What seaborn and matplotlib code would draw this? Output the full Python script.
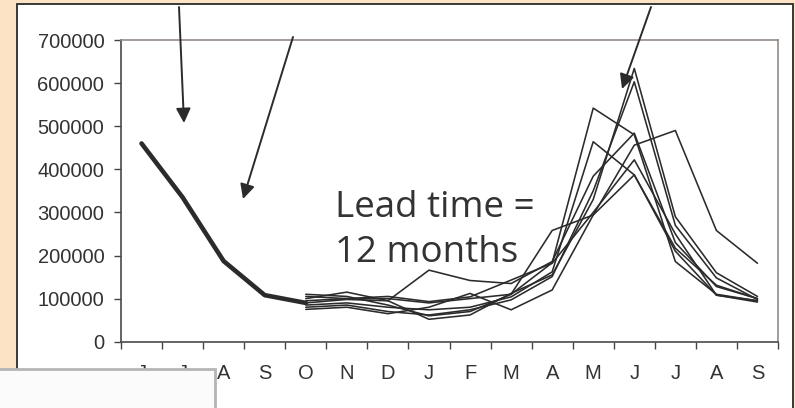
import matplotlib
matplotlib.use("Agg")
import matplotlib.pyplot as plt
from matplotlib.patches import Rectangle
import seaborn as sns
import pandas as pd
import numpy as np

months = ["J", "J", "A", "S", "O", "N", "D", "J", "F", "M", "A", "M", "J", "J", "A", "S"]

# observed (bold) series, Jun..Oct
observed = [460000, 335000, 187000, 108000, 90000]

# forecast series (lead time 12 months), Oct..Sep
fc1 = [95000, 100000, 100000, 90000, 100000, 110000, 258000, 294000, 456000, 490000, 258000, 182000]
fc2 = [110000, 105000, 85000, 60000, 70000, 110000, 183000, 542000, 480000, 186000, 110000, 95000]
fc3 = [85000, 90000, 80000, 74000, 80000, 104000, 162000, 464000, 387000, 217000, 131000, 100000]
fc4 = [90000, 98000, 95000, 52000, 62000, 112000, 155000, 330000, 634000, 290000, 160000, 105000]
fc5 = [80000, 85000, 70000, 62000, 74000, 97000, 151000, 350000, 603000, 270000, 148000, 98000]
fc6 = [100000, 115000, 95000, 166000, 142000, 135000, 186000, 384000, 484000, 230000, 128000, 100000]
fc7 = [105000, 100000, 105000, 93000, 104000, 143000, 182000, 300000, 422000, 250000, 108000, 92000]
fc8 = [75000, 80000, 65000, 80000, 112000, 74000, 120000, 294000, 387000, 210000, 108000, 95000]
forecasts = [fc1, fc2, fc3, fc4, fc5, fc6, fc7, fc8]

yticks = [0, 100000, 200000, 300000, 400000, 500000, 600000, 700000]

W, H = 795, 408
PEACH = "#fce3c6"
INK = "#333333"

sns.set_theme(style="white")
plt.rcParams["font.family"] = ["Liberation Sans", "DejaVu Sans"]

fig = plt.figure(figsize=(W / 100, H / 100), dpi=100, facecolor=PEACH)

# white chart box
box = Rectangle((17, -5), 776, 409, transform=None, facecolor="white",
                edgecolor="#2a2a2a", linewidth=1.3, zorder=-5)
fig.patches.append(box)

ax = fig.add_axes([121 / W, 66.3 / H, 657 / W, 301.7 / H])
ax.set_facecolor("white")
ax.set_zorder(1)

obs_df = pd.DataFrame({"x": np.arange(len(observed)), "y": observed})
sns.lineplot(data=obs_df, x="x", y="y", ax=ax, color="#2b2b2b", linewidth=3.3, zorder=3)

rows = []
for k, fc in enumerate(forecasts):
    for i, v in enumerate(fc):
        rows.append({"x": 4 + i, "y": v, "series": k})
fc_df = pd.DataFrame(rows)
sns.lineplot(data=fc_df, x="x", y="y", units="series", estimator=None, ax=ax,
             color="#2b2b2b", linewidth=1.15, zorder=2)

ax.set_xlim(-0.5, len(months) - 0.5)
ax.set_ylim(0, 700000)
ax.set_xlabel("")
ax.set_ylabel("")
ax.set_yticks(yticks)
ax.set_yticklabels([str(t) for t in yticks])
ax.set_xticks(np.arange(len(months)))
ax.set_xticklabels(months)
ax.set_xticks(np.arange(-0.5, len(months)), minor=True)
ax.tick_params(axis="x", which="major", length=0, pad=16, labelsize=14.5, labelcolor=INK)
ax.tick_params(axis="x", which="minor", length=5, width=1, color="#444444", bottom=True)
ax.tick_params(axis="y", which="major", length=5, width=1, color="#444444", left=True,
               pad=7, labelsize=14.5, labelcolor=INK)

for side in ["left", "bottom"]:
    ax.spines[side].set_color("#4a4a4a")
    ax.spines[side].set_linewidth(1.2)
for side in ["top", "right"]:
    ax.spines[side].set_visible(True)
    ax.spines[side].set_color("#958b88")
    ax.spines[side].set_linewidth(1.2)

# annotation arrows
def arrow(x0, y0, x1, y1):
    ax.annotate("", xy=(x1, H - y1), xytext=(x0, H - y0),
                xycoords="figure pixels", textcoords="figure pixels",
                arrowprops=dict(arrowstyle="-|>", color="#2b2b2b", lw=1.4,
                                mutation_scale=22, shrinkA=0, shrinkB=0),
                zorder=5, annotation_clip=False)

arrow(179, 7, 184, 123)
arrow(293, 37, 243, 199)
arrow(651, 7, 622, 89)

ax.text(335, H - 217, "Lead time =", transform=None, fontsize=26.5, color=INK,
        family=["Open Sans", "DejaVu Sans"], va="baseline", ha="left", zorder=6)
ax.text(335, H - 262, "12 months", transform=None, fontsize=26.5, color=INK,
        family=["Open Sans", "DejaVu Sans"], va="baseline", ha="left", zorder=6)

# pasted image fragment at bottom-left
overlay_ax = fig.add_axes([0, 0, 1, 1], facecolor="none")
overlay_ax.set_axis_off()
overlay_ax.set_zorder(10)
overlay_ax.add_patch(Rectangle((-5, -5), 220, 44, transform=None,
                               facecolor="#fbfbfb", edgecolor="#b5b5b5", linewidth=2.0))

fig.savefig("out.png", dpi=100, facecolor=PEACH)
